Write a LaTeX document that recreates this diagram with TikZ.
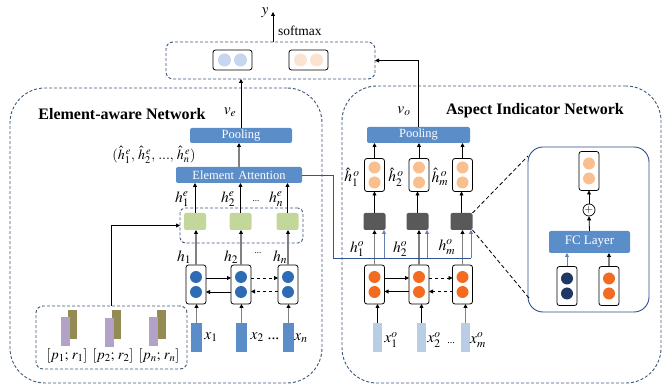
\documentclass[tikz,border=0pt]{standalone}
\usepackage{mathptmx}
\usepackage{fontspec}
\setmainfont{Liberation Serif}
\usetikzlibrary{arrows.meta}
\renewcommand\defaultscriptratio{.74}
\definecolor{dashc}{HTML}{3E5778}
\definecolor{boxblue}{HTML}{5B8DC9}
\definecolor{lightblueC}{HTML}{C5D6EE}
\definecolor{lightpeach}{HTML}{FBE3D2}
\definecolor{blueC}{HTML}{2E6BB5}
\definecolor{greenbox}{HTML}{C4D79B}
\definecolor{olivebar}{HTML}{948A54}
\definecolor{lilac}{HTML}{B3A2C7}
\definecolor{lightbar}{HTML}{B9CDE5}
\definecolor{orangeC}{HTML}{F26B21}
\definecolor{peachC}{HTML}{F9BF8F}
\definecolor{navyC}{HTML}{1F3864}
\definecolor{grayBox}{HTML}{595959}
\definecolor{linkblue}{HTML}{2F5597}
\definecolor{shaft}{HTML}{808080}
\newcommand\cellcircs[2]{\fill[#2] (#1.center) ++(0,-7.5) circle[radius=6pt] ++(0,15) circle[radius=6pt];}
\newcommand\rowcircs[2]{\fill[#2] (#1.center) ++(-8,0) circle[radius=6.5pt] ++(16,0) circle[radius=6.5pt];}
\begin{document}
\begin{tikzpicture}[x=1pt,y=-1pt,
 dbox/.style={draw=dashc, dash pattern=on 3pt off 2pt, line width=0.9pt, inner sep=0pt, outer sep=0pt},
 cell/.style={draw=black, fill=white, rounded corners=2.5pt, line width=0.8pt, minimum width=20pt, minimum height=39pt, inner sep=0pt, outer sep=0pt},
 hcell/.style={cell, minimum height=33pt},
 wcell/.style={cell, minimum width=39pt, minimum height=20pt},
 bluerect/.style={fill=boxblue, rounded corners=2pt, text=white, inner sep=0pt, outer sep=0pt, font=\fontsize{12.5}{14}\selectfont},
 greenrect/.style={fill=greenbox, rounded corners=2pt, minimum width=22pt, minimum height=17pt, inner sep=0pt, outer sep=0pt},
 grayrect/.style={fill=grayBox, rounded corners=2pt, minimum width=22pt, minimum height=17pt, inner sep=0pt, outer sep=0pt},
 arr/.style={-{Triangle[length=4pt,width=4pt]}, line width=0.8pt, draw=black},
 garr/.style={-{Triangle[length=4pt,width=4pt,color=black]}, line width=1.1pt, draw=shaft},
 barr/.style={-{Triangle[length=4pt,width=4pt]}, line width=0.9pt, draw=linkblue!75},
 link/.style={draw=linkblue, line width=0.9pt},
 lab/.style={font=\fontsize{15.5}{17}\selectfont, inner sep=0pt},
 title/.style={font=\bfseries\fontsize{16}{18}\selectfont, inner sep=0pt}
]
\useasboundingbox (0,0) rectangle (665,387);

% ---------- big containers ----------
\node[dbox, rounded corners=35pt, minimum width=312pt, minimum height=295pt] (EN) at (166,235.5) {};
\node[dbox, rounded corners=35pt, minimum width=319pt, minimum height=297pt] (AN) at (501.5,234.5) {};
\node[dbox, rounded corners=7pt, minimum width=209pt, minimum height=37pt] (top) at (270.5,60.5) {};

\node[title] (t1) at (122,114) {Element-aware Network};
\node[title] (t2) at (535,111) {Aspect Indicator Network};

% ---------- top ----------
\node[wcell] (tb) at (232.5,60) {};
\rowcircs{tb}{lightblueC}
\node[wcell] (to) at (308.5,60) {};
\rowcircs{to}{lightpeach}
\coordinate (ytip) at (273,12);
\draw[arr] (top.north -| ytip) -- (ytip);
\node[lab] (ylab) at (265,13) {$y$};
\node[anchor=west, inner sep=0pt, font=\fontsize{13.5}{15}\selectfont] (smax) at (278,31) {softmax};

% ---------- left network ----------
\node[bluerect, minimum width=102pt, minimum height=15pt] (PL) at (241,135.5) {Pooling};
\node[bluerect, minimum width=126pt, minimum height=16pt] (EA) at (239,175) {Element\,\,Attention};
\node[lab] (ve) at (230,112) {$v_e$};
\node[lab, font=\fontsize{14}{16}\selectfont] (hhat) at (154,155) {$(\hat{h}_1^{\,e},\, \hat{h}_2^{\,e},\,...,\,\hat{h}_n^{\,e})$};
\draw[arr] (PL.north) -- (PL.north |- top.south);
\draw[garr] (EA.north) -- (EA.north |- PL.south);

\node[dbox, rounded corners=5pt, minimum width=123pt, minimum height=35pt] (GC) at (241.5,225.5) {};
\node[greenrect] (G1) at (195,221.5) {};
\node[greenrect] (G2) at (240.5,221.5) {};
\node[greenrect] (G3) at (287.5,221.5) {};

\node[cell] (L1) at (196,284.5) {};
\node[cell] (L2) at (241,284.5) {};
\node[cell] (L3) at (288,284.5) {};
\cellcircs{L1}{blueC}
\cellcircs{L2}{blueC}
\cellcircs{L3}{blueC}
\draw[arr] ([yshift=6.5pt]L1.east) -- ([yshift=6.5pt]L2.west);
\draw[arr] ([yshift=-7.5pt]L2.west) -- ([yshift=-7.5pt]L1.east);
\draw[arr, dashed] ([yshift=6.5pt]L2.east) -- ([yshift=6.5pt]L3.west);
\draw[arr, dashed] ([yshift=-7pt]L3.west) -- ([yshift=-7pt]L2.east);

\foreach \i in {1,2,3}{
  \draw[arr] (G\i.north) -- (G\i.north |- EA.south);
  \draw[garr] (L\i.north) -- (L\i.north |- G\i.south);
}

\fill[boxblue] (191,323) rectangle (202,352);
\fill[boxblue] (236,323) rectangle (247,352);
\fill[boxblue] (283,323) rectangle (294,352);
\coordinate (x1t) at (196.5,323);
\coordinate (x2t) at (241.5,323);
\coordinate (x3t) at (288.5,323);
\draw[garr] (x1t) -- (x1t |- L1.south);
\draw[garr] (x2t) -- (x2t |- L2.south);
\draw[garr] (x3t) -- (x3t |- L3.south);

\node[lab] (lhe1) at (182,199) {$h_1^e$};
\node[lab] (lhe2) at (228,199) {$h_2^e$};
\node[lab, font=\fontsize{9}{10}\selectfont] (lhed) at (256,201) {...};
\node[lab] (lhe3) at (276,199) {$h_n^e$};
\node[lab] (lh1) at (184,257) {$h_1$};
\node[lab] (lh2) at (231,257) {$h_2$};
\node[lab, font=\fontsize{9}{10}\selectfont] (lhd) at (258,253) {...};
\node[lab] (lh3) at (280,257) {$h_n$};
\node[lab] (lx1) at (211,337) {$x_1$};
\node[lab] (lx2) at (265,337) {$x_2$ ...};
\node[lab] (lx3) at (301,338) {$x_n$};

% p;r box
\node[dbox, rounded corners=7pt, minimum width=151pt, minimum height=63pt] (PRB) at (111.5,337.5) {};
\fill[olivebar] (68,310) rectangle (77,339);
\fill[lilac] (61,317) rectangle (70,346);
\fill[olivebar] (112,310) rectangle (121,339);
\fill[lilac] (105,318) rectangle (114,347);
\fill[olivebar] (157,310) rectangle (166,339);
\fill[lilac] (149,317) rectangle (158,346);
\node[lab, font=\fontsize{14.5}{16}\selectfont] (pr1) at (67,356) {$[p_1;\, r_1]$};
\node[lab, font=\fontsize{14.5}{16}\selectfont] (pr2) at (113,356) {$[p_2;\, r_2]$};
\node[lab, font=\fontsize{14.5}{16}\selectfont] (pr3) at (159,356) {$[p_n;\, r_n]$};
\draw[arr] (PRB.north) |- (GC.west);

% ---------- right network ----------
\node[bluerect, minimum width=103pt, minimum height=16pt] (PR) at (418.5,135) {Pooling};
\node[lab] (vo) at (404,111) {$v_o$};
\draw[arr] (PR.north) |- (top.east);

\node[hcell] (H1) at (374.5,175) {};
\node[hcell] (H2) at (419,175) {};
\node[hcell] (H3) at (462.5,175) {};
\cellcircs{H1}{peachC}
\cellcircs{H2}{peachC}
\cellcircs{H3}{peachC}

\node[grayrect] (K1) at (374.5,221.5) {};
\node[grayrect] (K2) at (417.5,221.5) {};
\node[grayrect] (K3) at (461.5,221.5) {};

\node[cell] (R1) at (374.5,284.5) {};
\node[cell] (R2) at (419,284.5) {};
\node[cell] (R3) at (462.5,284.5) {};
\cellcircs{R1}{orangeC}
\cellcircs{R2}{orangeC}
\cellcircs{R3}{orangeC}
\draw[arr] ([yshift=6.5pt]R1.east) -- ([yshift=6.5pt]R2.west);
\draw[arr] ([yshift=-7pt]R2.west) -- ([yshift=-7pt]R1.east);
\draw[arr, dashed] ([yshift=6.5pt]R2.east) -- ([yshift=6.5pt]R3.west);
\draw[arr, dashed] ([yshift=-7pt]R3.west) -- ([yshift=-7pt]R2.east);

\foreach \i in {1,2,3}{
  \draw[arr] (H\i.north) -- (H\i.north |- PR.south);
  \draw[arr] (K\i.north) -- (K\i.north |- H\i.south);
}
\draw[garr] (R1.north) -- (R1.north |- K1.south);
\draw[garr] (R2.north) -- (R2.north |- K2.south);
\draw[garr] (R3.north) -- (R3.north |- K3.south);

% element attention link
\coordinate (c1) at (333,258);
\coordinate (c2) at (471,258);
\draw[link] (EA.east) -| (c1) -- (c2);
\coordinate (b1) at (384,258);
\coordinate (b2) at (427,258);
\coordinate (b3) at (471,258);
\draw[barr] (b1) -- (b1 |- K1.south);
\draw[barr] (b2) -- (b2 |- K2.south);
\draw[barr] (b3) -- (b3 |- K3.south);

\fill[lightbar] (373,323) rectangle (382,352);
\fill[lightbar] (417,323) rectangle (426,352);
\fill[lightbar] (461,323) rectangle (470,352);
\coordinate (y1t) at (377.5,323);
\coordinate (y2t) at (421.5,323);
\coordinate (y3t) at (465.5,323);
\draw[arr] (y1t) -- (y1t |- R1.south);
\draw[arr] (y2t) -- (y2t |- R2.south);
\draw[garr] (y3t) -- (y3t |- R3.south);

\node[lab] (lho1) at (357,249) {$h_1^o$};
\node[lab] (lho2) at (400,249) {$h_2^o$};
\node[lab] (lho3) at (447,247) {$h_m^o$};
\node[lab] (lhh1) at (352,177) {$\hat{h}_1^{\,o}$};
\node[lab] (lhh2) at (396,177) {$\hat{h}_2^{\,o}$};
\node[lab] (lhh3) at (440,177) {$\hat{h}_m^{\,o}$};
\node[lab] (lxo1) at (391,340) {$x_1^o$};
\node[lab] (lxo2) at (434,340) {$x_2^o$};
\node[lab, font=\fontsize{10}{11}\selectfont] (lxod) at (451,343) {...};
\node[lab] (lxo3) at (478,340) {$x_m^o$};

% ---------- inset ----------
\node[draw=linkblue!90!black, line width=0.9pt, rounded corners=15pt, minimum width=121pt, minimum height=165pt, inner sep=0pt] (IN) at (588.5,229.5) {};
\node[cell] (IT) at (589,171) {};
\cellcircs{IT}{peachC}
\node[draw=black, circle, minimum size=12pt, inner sep=0pt, line width=0.7pt, font=\fontsize{11}{11}\selectfont] (plus) at (589,210) {$+$};
\node[bluerect, minimum width=81pt, minimum height=22pt, font=\fontsize{13}{15}\selectfont] (FC) at (589.5,242) {FC Layer};
\node[cell] (IB1) at (567,286) {};
\node[cell] (IB2) at (609,286) {};
\cellcircs{IB1}{navyC}
\cellcircs{IB2}{orangeC}
\draw[barr] (IB1.north) -- (IB1.north |- FC.south);
\draw[garr] (IB2.north) -- (IB2.north |- FC.south);
\draw[arr] (FC.north) -- (plus.south);
\draw[arr] (plus.north) -- (IT.south);
\coordinate (z1) at (528,156);
\coordinate (z2) at (529,298);
\draw[line width=0.8pt, dash pattern=on 4pt off 2.5pt] (K3.north east) -- (z1);
\draw[line width=0.8pt, dash pattern=on 4pt off 2.5pt] (K3.south east) -- (z2);
\end{tikzpicture}
\end{document}
